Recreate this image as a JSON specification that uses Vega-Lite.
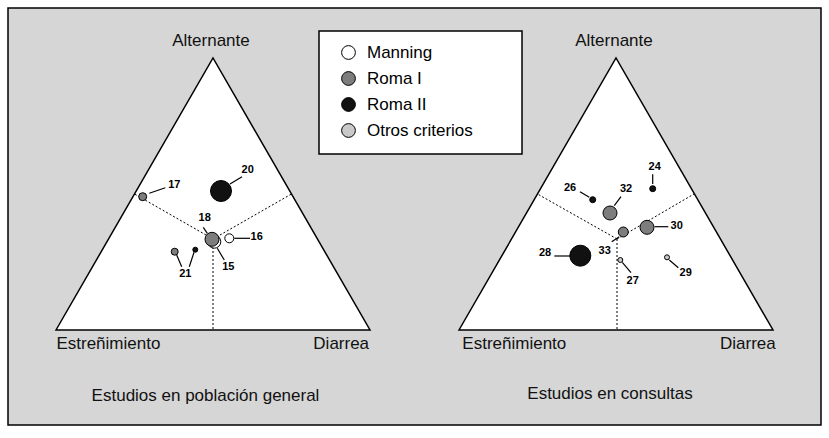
{
  "$schema": "https://vega.github.io/schema/vega-lite/v6.json",
  "width": 829,
  "height": 438,
  "padding": 0,
  "autosize": {"type": "fit", "contains": "padding"},
  "background": "white",
  "config": {"view": {"stroke": null}},
  "datasets": {
    "marco": [{"x": 8, "y": 8, "x2": 821, "y2": 425}],
    "cuadro": [{"x": 319, "y": 31, "x2": 522, "y2": 154}],
    "triangulos": [
      {"panel": "general", "x": 56, "y": 330, "base": 330},
      {"panel": "general", "x": 213, "y": 58, "base": 330},
      {"panel": "general", "x": 370, "y": 330, "base": 330},
      {"panel": "consultas", "x": 459, "y": 330, "base": 330},
      {"panel": "consultas", "x": 616, "y": 58, "base": 330},
      {"panel": "consultas", "x": 773, "y": 330, "base": 330}
    ],
    "divisiones": [
      {"panel": "general", "x": 213, "y": 239, "x2": 134.5, "y2": 194},
      {"panel": "general", "x": 213, "y": 239, "x2": 291.5, "y2": 194},
      {"panel": "general", "x": 213, "y": 239, "x2": 213, "y2": 330},
      {"panel": "consultas", "x": 617, "y": 239, "x2": 537.5, "y2": 194},
      {"panel": "consultas", "x": 617, "y": 239, "x2": 694, "y2": 194},
      {"panel": "consultas", "x": 617, "y": 239, "x2": 617, "y2": 330}
    ],
    "guias": [
      {"estudio": "17", "x": 149.3, "y": 193.3, "x2": 165.3, "y2": 187.7},
      {"estudio": "20", "x": 230, "y": 184, "x2": 242, "y2": 176.7},
      {"estudio": "18", "x": 203.3, "y": 227.3, "x2": 207.3, "y2": 233.3},
      {"estudio": "15", "x": 217.3, "y": 248.3, "x2": 224.3, "y2": 260},
      {"estudio": "16", "x": 234.3, "y": 238.3, "x2": 250, "y2": 238.3},
      {"estudio": "21", "x": 176.7, "y": 255, "x2": 181.7, "y2": 266.7},
      {"estudio": "21", "x": 194, "y": 252.3, "x2": 189.3, "y2": 266.7},
      {"estudio": "24", "x": 652.7, "y": 184, "x2": 652.7, "y2": 174.3},
      {"estudio": "26", "x": 580, "y": 191.7, "x2": 589.3, "y2": 197.3},
      {"estudio": "32", "x": 614.3, "y": 205.7, "x2": 621, "y2": 196.7},
      {"estudio": "30", "x": 654.7, "y": 226.7, "x2": 668.3, "y2": 226.7},
      {"estudio": "33", "x": 619.3, "y": 236.7, "x2": 611.7, "y2": 241.7},
      {"estudio": "28", "x": 554.3, "y": 256, "x2": 570, "y2": 256},
      {"estudio": "27", "x": 622.3, "y": 262.3, "x2": 631, "y2": 272.7},
      {"estudio": "29", "x": 669.3, "y": 260, "x2": 678.3, "y2": 267.7}
    ],
    "estudios": [
      {"estudio": "17", "criterio": "Roma I", "x": 142.7, "y": 196.7, "n": 64},
      {"estudio": "20", "criterio": "Roma II", "x": 221, "y": 191, "n": 441},
      {"estudio": "15", "criterio": "Manning", "x": 214.3, "y": 241.7, "n": 169},
      {"estudio": "18", "criterio": "Roma I", "x": 212, "y": 239.3, "n": 196},
      {"estudio": "16", "criterio": "Manning", "x": 229.3, "y": 238.3, "n": 81},
      {"estudio": "21", "criterio": "Roma I", "x": 174.7, "y": 251.7, "n": 49},
      {"estudio": "21", "criterio": "Roma II", "x": 195.3, "y": 249.7, "n": 25},
      {"estudio": "24", "criterio": "Roma II", "x": 652.7, "y": 188.7, "n": 36},
      {"estudio": "26", "criterio": "Roma II", "x": 592.7, "y": 199.7, "n": 36},
      {"estudio": "32", "criterio": "Roma I", "x": 610, "y": 213, "n": 196},
      {"estudio": "30", "criterio": "Roma I", "x": 647, "y": 227.3, "n": 196},
      {"estudio": "33", "criterio": "Roma I", "x": 623.3, "y": 232, "n": 100},
      {"estudio": "28", "criterio": "Roma II", "x": 580.3, "y": 255.7, "n": 441},
      {"estudio": "27", "criterio": "Otros criterios", "x": 620.3, "y": 260, "n": 25},
      {"estudio": "29", "criterio": "Otros criterios", "x": 667, "y": 257.3, "n": 25}
    ],
    "etiquetas": [
      {"estudio": "17", "x": 174.3, "y": 184.7},
      {"estudio": "20", "x": 247.7, "y": 170},
      {"estudio": "18", "x": 204.7, "y": 218.3},
      {"estudio": "15", "x": 228.3, "y": 267.3},
      {"estudio": "16", "x": 256.7, "y": 237.3},
      {"estudio": "21", "x": 185.3, "y": 274},
      {"estudio": "24", "x": 654.7, "y": 167.3},
      {"estudio": "26", "x": 570, "y": 187.7},
      {"estudio": "32", "x": 626, "y": 189.3},
      {"estudio": "30", "x": 676.7, "y": 226},
      {"estudio": "33", "x": 604.7, "y": 250.7},
      {"estudio": "28", "x": 545, "y": 253},
      {"estudio": "27", "x": 632.7, "y": 281.3},
      {"estudio": "29", "x": 685.7, "y": 273.3}
    ],
    "textos": [
      {"texto": "Alternante", "x": 211, "y": 46},
      {"texto": "Estreñimiento", "x": 108.4, "y": 349.3},
      {"texto": "Diarrea", "x": 341.2, "y": 349.3},
      {"texto": "Estudios en población general", "x": 205.5, "y": 401},
      {"texto": "Alternante", "x": 614, "y": 45.5},
      {"texto": "Estreñimiento", "x": 514.3, "y": 349.3},
      {"texto": "Diarrea", "x": 747.9, "y": 349.3},
      {"texto": "Estudios en consultas", "x": 610, "y": 399.3}
    ]
  },
  "encoding": {
    "x": {"field": "x", "type": "quantitative", "scale": {"domain": [0, 829], "nice": false, "zero": false}, "axis": null},
    "y": {"field": "y", "type": "quantitative", "scale": {"domain": [0, 438], "nice": false, "zero": false, "reverse": true}, "axis": null}
  },
  "layer": [
    {
      "data": {"name": "marco"},
      "mark": {"type": "rect", "fill": "#d6d6d6", "stroke": "black", "strokeWidth": 1.5},
      "encoding": {"x2": {"field": "x2"}, "y2": {"field": "y2"}}
    },
    {
      "data": {"name": "cuadro"},
      "mark": {"type": "rect", "fill": "white", "stroke": "black", "strokeWidth": 1.5},
      "encoding": {"x2": {"field": "x2"}, "y2": {"field": "y2"}}
    },
    {
      "data": {"name": "triangulos"},
      "mark": {"type": "area", "fill": "white", "stroke": "black", "strokeWidth": 1.5, "opacity": 1},
      "encoding": {"y2": {"field": "base"}, "detail": {"field": "panel"}}
    },
    {
      "data": {"name": "divisiones"},
      "mark": {"type": "rule", "color": "black", "strokeWidth": 1, "strokeDash": [2, 2]},
      "encoding": {"x2": {"field": "x2"}, "y2": {"field": "y2"}}
    },
    {
      "data": {"name": "guias"},
      "mark": {"type": "rule", "color": "black", "strokeWidth": 1.2},
      "encoding": {"x2": {"field": "x2"}, "y2": {"field": "y2"}}
    },
    {
      "data": {"name": "estudios"},
      "mark": {"type": "circle", "stroke": "black", "strokeWidth": 1, "opacity": 1},
      "encoding": {
        "color": {
          "field": "criterio", "type": "nominal",
          "scale": {"domain": ["Manning", "Roma I", "Roma II", "Otros criterios"], "range": ["#ffffff", "#7d7d7d", "#111111", "#c9c9c9"]},
          "legend": {
            "title": null, "orient": "none", "legendX": 340, "legendY": 44,
            "symbolType": "circle", "symbolSize": 190, "symbolStrokeColor": "black", "symbolStrokeWidth": 1, "symbolOpacity": 1,
            "labelFont": "Liberation Sans", "labelFontSize": 17, "labelColor": "black", "labelOffset": 10, "rowPadding": 7, "padding": 0
          }
        },
        "size": {"field": "n", "type": "quantitative", "scale": {"domain": [0, 441], "range": [0, 441], "zero": true}, "legend": null}
      }
    },
    {
      "data": {"name": "etiquetas"},
      "mark": {"type": "text", "font": "Liberation Sans", "fontSize": 11, "fontWeight": "bold", "align": "center", "baseline": "middle", "color": "black"},
      "encoding": {"text": {"field": "estudio"}}
    },
    {
      "data": {"name": "textos"},
      "mark": {"type": "text", "font": "Liberation Sans", "fontSize": 17, "align": "center", "baseline": "alphabetic", "color": "#111111"},
      "encoding": {"text": {"field": "texto"}}
    }
  ]
}
